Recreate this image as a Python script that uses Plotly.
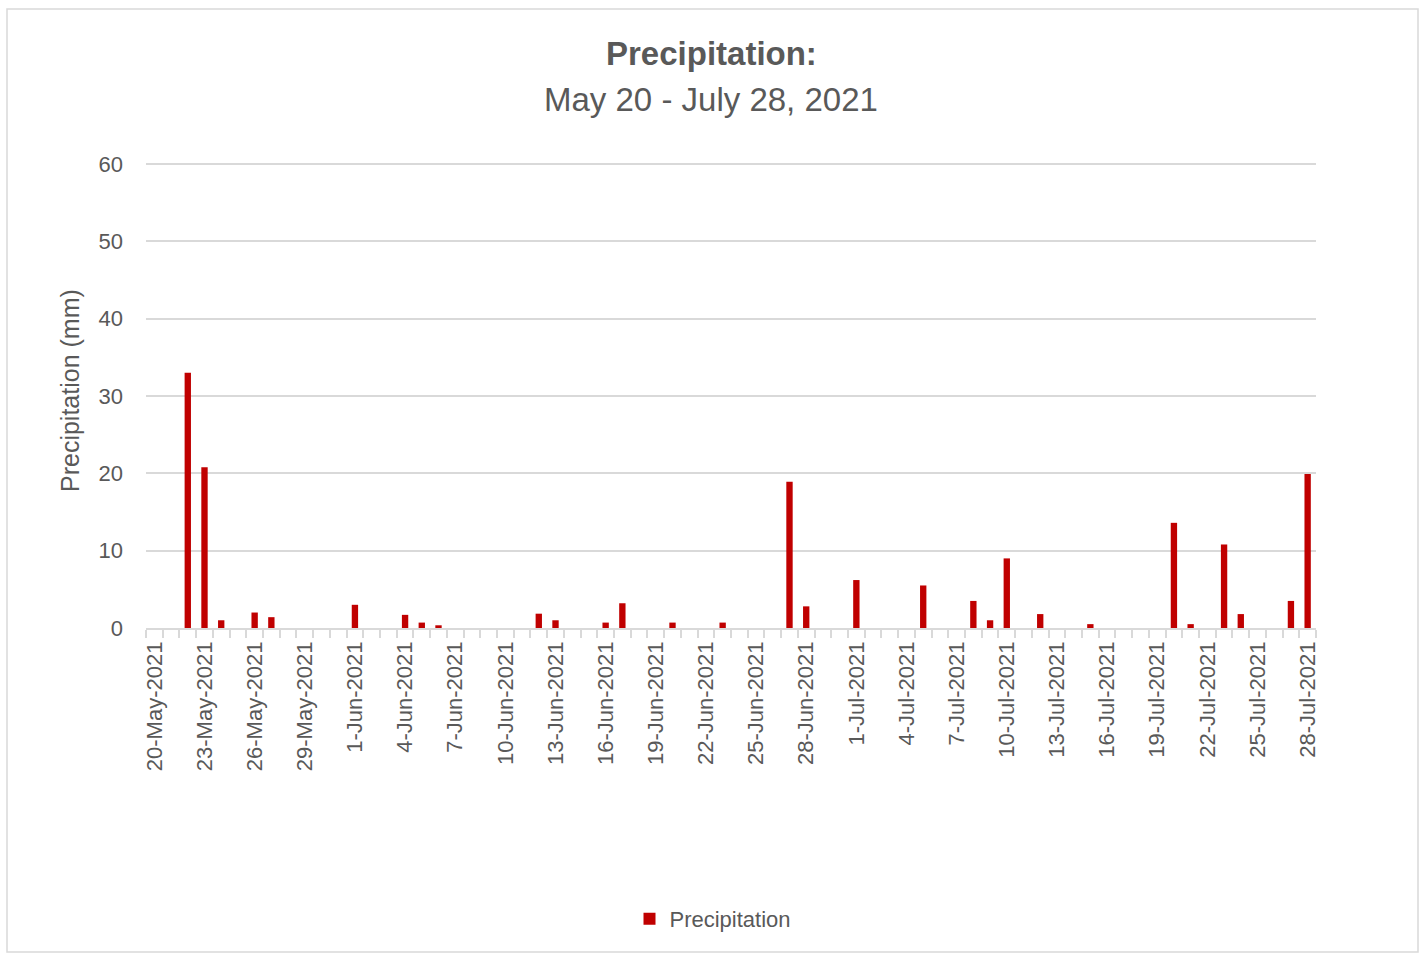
import pandas as pd
import plotly.graph_objects as go

# ---- data ----
start_date = "2021-05-20"
end_date = "2021-07-28"
rain_dates = ["2021-05-22", "2021-05-23", "2021-05-24", "2021-05-26", "2021-05-27",
              "2021-06-01", "2021-06-04", "2021-06-05", "2021-06-06", "2021-06-12",
              "2021-06-13", "2021-06-16", "2021-06-17", "2021-06-20", "2021-06-23",
              "2021-06-27", "2021-06-28", "2021-07-01", "2021-07-05", "2021-07-08",
              "2021-07-09", "2021-07-10", "2021-07-12", "2021-07-15", "2021-07-20",
              "2021-07-21", "2021-07-23", "2021-07-24", "2021-07-27", "2021-07-28"]
rain_mm = [33.0, 20.8, 1.0, 2.0, 1.4,
           3.0, 1.7, 0.7, 0.35, 1.85,
           1.0, 0.7, 3.2, 0.7, 0.7,
           18.9, 2.8, 6.2, 5.5, 3.5,
           1.0, 9.0, 1.8, 0.5, 13.6,
           0.5, 10.8, 1.8, 3.5, 19.9]
y_ticks = [0, 10, 20, 30, 40, 50, 60]

days = pd.date_range(start_date, end_date, freq="D")
categories = [f"{d.day}-{d.strftime('%b')}-{d.year}" for d in days]
lookup = dict(zip(pd.to_datetime(rain_dates), rain_mm))
values = [lookup.get(d, 0.0) for d in days]
tick_text = [c if i % 3 == 0 else "" for i, c in enumerate(categories)]

GRAY_TXT = "#595959"
GRID = "#D9D9D9"
FONT = "Liberation Sans"

fig = go.Figure()
fig.add_trace(go.Bar(
    x=categories, y=values, name="Precipitation",
    marker=dict(color="#C00000", line=dict(width=0)),
    width=0.38,
))

W, H = 1424, 955
L, R, T, B = 146, 1316, 162, 628
Y_TOP = 60.26
pw, ph = R - L, B - T

def px_x(p):
    return (p - L) / pw

def px_y(p):
    return (B - p) / ph

fig.update_layout(
    width=W, height=H,
    margin=dict(l=L, r=W - R, t=T, b=H - B, pad=0),
    paper_bgcolor="white", plot_bgcolor="white",
    font=dict(family=FONT, color=GRAY_TXT, size=20),
    showlegend=True,
    legend=dict(orientation="h", x=px_x(713), xanchor="center",
                y=px_y(919), yanchor="middle",
                font=dict(size=22, color=GRAY_TXT, family=FONT),
                itemwidth=30),
    bargap=0.6,
    xaxis=dict(
        type="category",
        tickmode="array", tickvals=categories, ticktext=tick_text,
        tickangle=-90, tickson="boundaries",
        ticks="outside", ticklen=8, tickcolor=GRID, tickwidth=1.5,
        ticklabelstandoff=3,
        showline=True, linecolor=GRID, linewidth=1.5,
        showgrid=False, zeroline=False,
        tickfont=dict(size=22, color=GRAY_TXT, family=FONT),
        range=[-0.5, len(categories) - 0.5],
    ),
    yaxis=dict(
        range=[0, Y_TOP], tickvals=y_ticks,
        showgrid=True, gridcolor=GRID, gridwidth=1.5,
        zeroline=False, showline=False, ticks="",
        ticklabelstandoff=22,
        tickfont=dict(size=22, color=GRAY_TXT, family=FONT),
    ),
    annotations=[
        dict(text="<b>Precipitation:</b>", xref="paper", yref="paper",
             x=px_x(711), y=px_y(54), xanchor="center", yanchor="middle",
             showarrow=False, font=dict(size=33, color=GRAY_TXT, family=FONT)),
        dict(text="May 20 - July 28, 2021", xref="paper", yref="paper",
             x=px_x(711), y=px_y(99), xanchor="center", yanchor="middle",
             showarrow=False, font=dict(size=33, color=GRAY_TXT, family=FONT)),
        dict(text="Precipitation (mm)", xref="paper", yref="paper",
             x=px_x(70), y=px_y(391), xanchor="center", yanchor="middle",
             textangle=-90, showarrow=False,
             font=dict(size=25, color=GRAY_TXT, family=FONT)),
    ],
    shapes=[
        dict(type="rect", xref="paper", yref="paper",
             x0=px_x(7), x1=px_x(1418), y0=px_y(952), y1=px_y(9),
             line=dict(color=GRID, width=1.5), fillcolor="rgba(0,0,0,0)",
             layer="below"),
    ],
)

fig.write_html("out.html")
